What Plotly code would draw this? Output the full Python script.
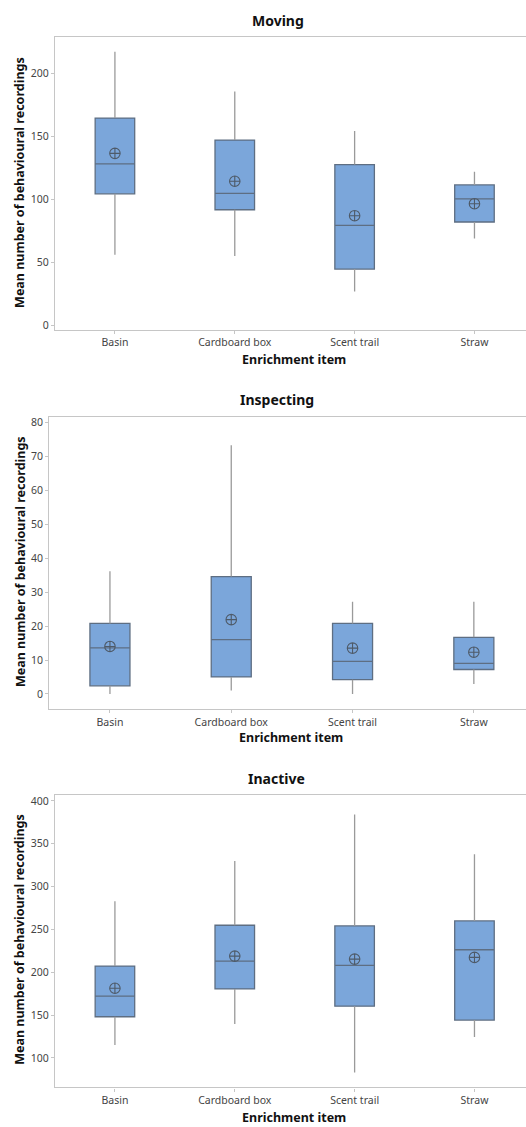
import plotly.graph_objects as go

W, H = 526, 1127

categories = ["Basin", "Cardboard box", "Scent trail", "Straw"]

moving_lower = [56, 55, 27, 69]
moving_q1 = [104.3, 91.7, 44.7, 82]
moving_median = [128, 104.6, 79.4, 100.4]
moving_q3 = [164.3, 146.9, 127.5, 111.4]
moving_upper = [216.8, 185.3, 154, 121.9]
moving_mean = [136.4, 114.3, 87, 96.5]

inspecting_lower = [0, 1, 0, 2.9]
inspecting_q1 = [2.4, 5, 4.2, 7.2]
inspecting_median = [13.6, 16, 9.6, 9]
inspecting_q3 = [20.8, 34.6, 20.8, 16.7]
inspecting_upper = [36.2, 73.3, 27.2, 27.2]
inspecting_mean = [14, 21.9, 13.5, 12.3]

inactive_lower = [115.1, 139.5, 83, 124.4]
inactive_q1 = [148, 180.5, 160.4, 144.1]
inactive_median = [172, 213, 208, 226.2]
inactive_q3 = [207.2, 254.8, 254, 259.9]
inactive_upper = [282.7, 329.9, 384.1, 337.7]
inactive_mean = [181.3, 218.8, 215.3, 217.3]

panel_titles = ["Moving", "Inspecting", "Inactive"]
x_title = "Enrichment item"
y_title = "Mean number of behavioural recordings"

y_ticks = [[0, 50, 100, 150, 200],
           [0, 10, 20, 30, 40, 50, 60, 70, 80],
           [100, 150, 200, 250, 300, 350, 400]]
y_ranges = [[-3.2, 228.7], [-4.4, 81.7], [65.5, 406.6]]

panels = [
    (moving_lower, moving_q1, moving_median, moving_q3, moving_upper, moving_mean),
    (inspecting_lower, inspecting_q1, inspecting_median, inspecting_q3, inspecting_upper, inspecting_mean),
    (inactive_lower, inactive_q1, inactive_median, inactive_q3, inactive_upper, inactive_mean),
]

# pixel geometry of plot areas (left, top, bottom)
geom = [(55, 35, 329), (49.3, 416.7, 710), (55, 796.7, 1090.3)]
title_pos = [(277.7, 18.5), (276.7, 399.5), (276.7, 779.5)]
xtitle_pos = [(294, 359), (291.3, 739), (294, 1120)]
ytitle_pos = [(20, 181.7), (20, 562.5), (20, 942)]

FILL = "#7BA6DA"
OUTLINE = "#5E6E82"
WHISKER = "#9A9A9A"
FRAME = "#C6C6C6"
TICKCOL = "#444444"
FONT = "Noto Sans"

fig = go.Figure()
layout = dict(width=W, height=H, margin=dict(l=0, r=0, t=0, b=0),
              paper_bgcolor="white", plot_bgcolor="white", showlegend=False,
              font=dict(family=FONT, color=TICKCOL))
annotations = []

for i, (lo, q1, med, q3, up, mean) in enumerate(panels):
    n = "" if i == 0 else str(i + 1)
    xa, ya = "x" + n, "y" + n
    # whiskers
    wx, wy = [], []
    for c, a, b, d, e in zip(categories, q3, up, q1, lo):
        wx += [c, c, None, c, c, None]
        wy += [a, b, None, d, e, None]
    fig.add_trace(go.Scatter(x=wx, y=wy, mode="lines", xaxis=xa, yaxis=ya,
                             line=dict(color=WHISKER, width=1.3), hoverinfo="skip"))
    fig.add_trace(go.Box(x=categories, q1=q1, median=med, q3=q3,
                         lowerfence=q1, upperfence=q3, xaxis=xa, yaxis=ya,
                         width=0.33, fillcolor=FILL, boxpoints=False,
                         line=dict(color=OUTLINE, width=1.3)))
    fig.add_trace(go.Scatter(x=categories, y=mean, mode="markers", xaxis=xa, yaxis=ya,
                             marker=dict(symbol="circle-cross-open", size=10.5,
                                         color="#4E5A68", line=dict(width=1.1))))
    left, top, bottom = geom[i]
    layout["xaxis" + n] = dict(domain=[left / W, 1], anchor=ya, type="category",
                               categoryorder="array", categoryarray=categories,
                               range=[-0.5, 3.43], showline=True, mirror=True,
                               linecolor=FRAME, linewidth=1.3, ticks="outside",
                               ticklen=3, tickcolor=FRAME, showgrid=False,
                               zeroline=False, tickfont=dict(size=10.5, color=TICKCOL))
    layout["yaxis" + n] = dict(domain=[1 - bottom / H, 1 - top / H], anchor=xa,
                               range=y_ranges[i], tickvals=y_ticks[i],
                               showline=True, linecolor=FRAME, linewidth=1.3,
                               ticks="outside", ticklen=3, tickcolor=FRAME,
                               showgrid=False, zeroline=False,
                               tickfont=dict(size=10.5, color=TICKCOL))
    tx, ty = title_pos[i]
    annotations.append(dict(text="<b>" + panel_titles[i] + "</b>", x=tx / W, y=1 - ty / H,
                            xref="paper", yref="paper", showarrow=False,
                            xanchor="center", yanchor="middle",
                            font=dict(size=14, color="#111111", family=FONT)))
    xx, xy = xtitle_pos[i]
    annotations.append(dict(text="<b>" + x_title + "</b>", x=xx / W, y=1 - xy / H,
                            xref="paper", yref="paper", showarrow=False,
                            xanchor="center", yanchor="middle",
                            font=dict(size=12.5, color="#111111", family=FONT)))
    yx, yy = ytitle_pos[i]
    annotations.append(dict(text="<b>" + y_title + "</b>", x=yx / W, y=1 - yy / H,
                            xref="paper", yref="paper", showarrow=False, textangle=-90,
                            xanchor="center", yanchor="middle",
                            font=dict(size=12.5, color="#111111", family=FONT)))

layout["annotations"] = annotations
fig.update_layout(**layout)
fig.write_html("out.html", config={"displayModeBar": False},
               post_script="document.body.style.margin='0';")
